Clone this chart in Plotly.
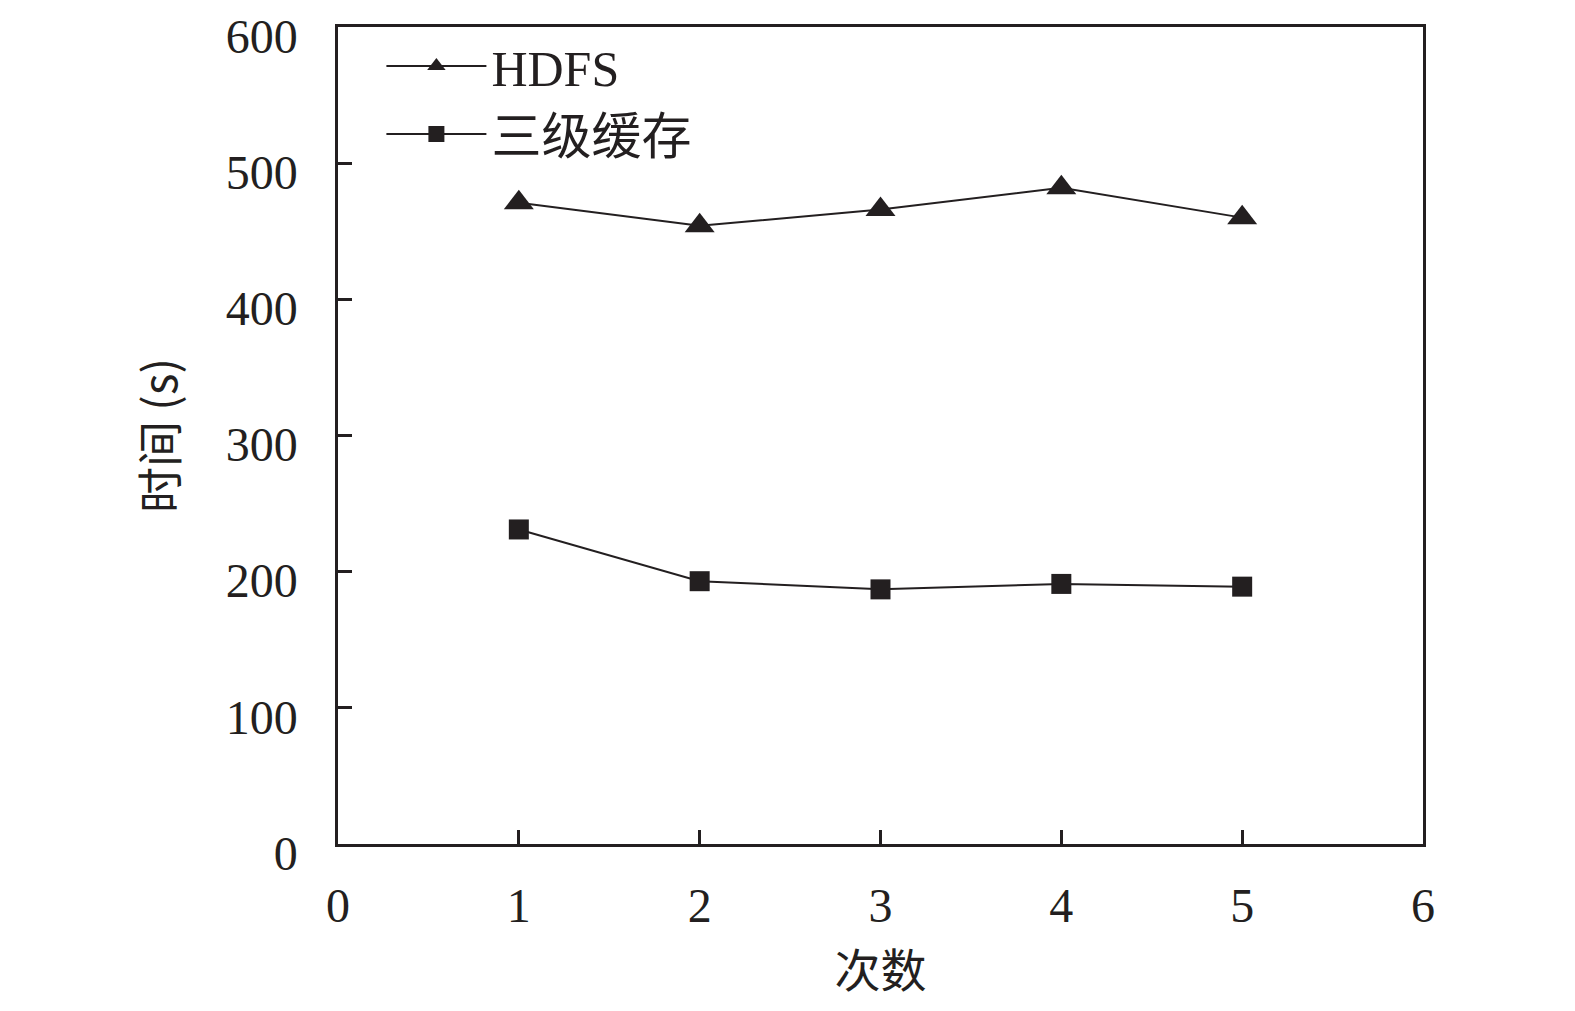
import plotly.graph_objects as go

runs = [1, 2, 3, 4, 5]
hdfs = [471, 454, 466, 482, 460]
cache3 = [231, 193, 187, 191, 189]
series_names = ["HDFS", "三级缓存"]
x_ticks = [0, 1, 2, 3, 4, 5, 6]
y_ticks = [0, 100, 200, 300, 400, 500, 600]

FONT = "Liberation Serif, Times New Roman, Noto Sans CJK SC, serif"
INK = "#231f20"

fig = go.Figure()
fig.add_trace(go.Scatter(
    x=runs, y=hdfs, name=series_names[0], mode="lines+markers",
    line=dict(color=INK, width=2),
    marker=dict(symbol="triangle-up", size=26, color=INK),
))
fig.add_trace(go.Scatter(
    x=runs, y=cache3, name=series_names[1], mode="lines+markers",
    line=dict(color=INK, width=2),
    marker=dict(symbol="square", size=20, color=INK),
))

axis_common = dict(
    showline=True, linecolor=INK, linewidth=2.5, mirror=True,
    ticks="inside", ticklen=14, tickwidth=2.5, tickcolor=INK,
    showgrid=False, zeroline=False, automargin=False,
    ticklabeloverflow="allow",
    tickfont=dict(family=FONT, size=48, color=INK),
)

fig.update_layout(
    width=1575, height=1011,
    margin=dict(l=330, r=160, t=19, b=175, autoexpand=False),
    paper_bgcolor="white", plot_bgcolor="white",
    showlegend=True,
    legend=dict(
        x=0.04, y=1.0, xanchor="left", yanchor="top",
        font=dict(family=FONT, size=50, color=INK),
        bgcolor="rgba(0,0,0,0)", tracegroupgap=0,
        itemwidth=100,
    ),
    xaxis=dict(
        range=[0, 6], tickvals=x_ticks, ticktext=[str(v) for v in x_ticks],
        ticklabelstandoff=18,
        title=dict(text="次数", font=dict(family="Noto Sans CJK SC", size=46, color=INK), standoff=24),
        **axis_common,
    ),
    yaxis=dict(
        range=[0, 600], tickvals=y_ticks, ticktext=[str(v) for v in y_ticks],
        ticklabelstandoff=28, ticklabelshift=9,
        title=dict(text="时间 (s)", font=dict(family="Noto Sans CJK SC, Liberation Serif", size=46, color=INK), standoff=34),
        **axis_common,
    ),
)

fig.write_html("out.html")
